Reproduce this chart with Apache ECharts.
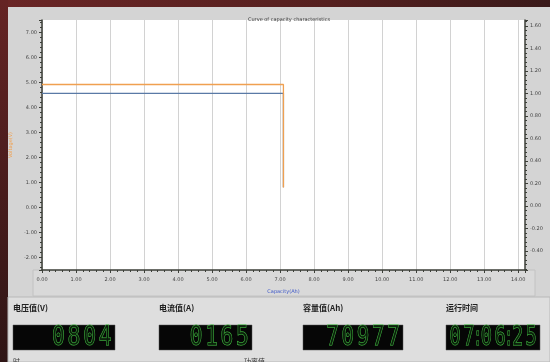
<!DOCTYPE html>
<html>
<head>
<meta charset="utf-8">
<script src="https://cdn.jsdelivr.net/npm/echarts@6/dist/echarts.min.js"></script>
<style>
  html, body { margin: 0; padding: 0; background: #d4d4d4; }
  #chart { width: 550px; height: 362px; }
</style>
</head>
<body>
<div id="chart"></div>
<script>
// Discharge curve: voltage (left axis) and current (right axis) vs. capacity
const voltageCapacity = [0, 7.0977, 7.0977];
const voltageValues   = [4.92, 4.92, 0.804];
const currentCapacity = [0, 7.0977, 7.0977];
const currentValues   = [1.00, 1.00, 0.165];

// Live readouts under the chart
const readoutTitles = ['电压值(V)', '电流值(A)', '容量值(Ah)', '运行时间'];
const readoutValues = ['0804', '0165', '70977', '07:06:25'];

const chartTitle = 'Curve of capacity characteristics';
const xName = 'Capacity(Ah)';
const yLeftName = 'Voltage(V)';
const yRightName = 'Current(A)';

const ORANGE = '#f0a050';
const BLUE = '#5a7aa6';
const AXIS = '#3c3f38';

const pairs = (xs, ys) => xs.map((x, i) => [x, ys[i]]);
const onStep = (v, step) => Math.abs(v / step - Math.round(v / step)) < 1e-6;

const chart = echarts.init(document.getElementById('chart'), null, { renderer: 'canvas' });

// Panels, readout boxes and digits drawn as graphic elements
const graphics = [];
graphics.push({
  type: 'rect', z: -1, shape: { x: 0, y: 0, width: 550, height: 7 },
  style: { fill: new echarts.graphic.LinearGradient(0, 0, 1, 0, [
    { offset: 0, color: '#6a2626' }, { offset: 0.6, color: '#55201f' }, { offset: 1, color: '#3a1a1a' }]) }
});
graphics.push({
  type: 'rect', z: -1, shape: { x: 0, y: 0, width: 8, height: 362 },
  style: { fill: new echarts.graphic.LinearGradient(0, 0, 0, 1, [
    { offset: 0, color: '#652424' }, { offset: 1, color: '#2e1515' }]) }
});
// axis label strip under the plot
graphics.push({
  type: 'rect', z: -1, shape: { x: 33, y: 270, width: 502, height: 26 },
  style: { fill: '#d9d9d9', stroke: '#c2c2c2', lineWidth: 1 }
});
// lower panel with readouts
graphics.push({
  type: 'rect', z: -1, shape: { x: 8, y: 297, width: 542, height: 65 },
  style: { fill: '#dedede', stroke: '#b8b8b8', lineWidth: 1 }
});

// box geometry and digit cell widths for each readout
const boxes = [
  { x: 13, w: 102, cell: 15.6 }, { x: 159, w: 93, cell: 15.4 },
  { x: 303, w: 100, cell: 15.2 }, { x: 446, w: 94, cell: 13.6 }
];
const boxTop = 325, boxH = 25;
boxes.forEach((b, i) => {
  graphics.push({
    type: 'text', x: b.x, y: 308,
    style: { text: readoutTitles[i], fill: '#222', font: 'bold 8px "Noto Sans CJK SC"', verticalAlign: 'middle' }
  });
  graphics.push({
    type: 'rect', shape: { x: b.x, y: boxTop, width: b.w, height: boxH },
    style: { fill: '#060606', stroke: '#555', lineWidth: 0.5 }
  });
  // seven-segment style digits, laid out right to left
  const txt = readoutValues[i];
  let right = b.x + b.w - 2;
  for (let k = txt.length - 1; k >= 0; k--) {
    const ch = txt[k];
    const cell = ch === ':' ? 4 : b.cell;
    graphics.push({
      type: 'text', x: right - cell / 2, y: boxTop + boxH / 2 + 1,
      scaleX: ch === ':' ? 0.6 : b.cell / 19,
      style: {
        text: ch, align: 'center', verticalAlign: 'middle',
        font: '26px "DejaVu Sans Mono"',
        fill: 'rgba(10,30,10,0.8)', stroke: '#45c445', lineWidth: 1
      }
    });
    right -= cell;
  }
});
graphics.push({ type: 'text', x: 13, y: 358, style: { text: '时', fill: '#333', font: '7px "Noto Sans CJK SC"' } });
graphics.push({ type: 'text', x: 244, y: 358, style: { text: '功率值', fill: '#333', font: '7px "Noto Sans CJK SC"' } });

const option = {
  animation: false,
  backgroundColor: '#d4d4d4',
  title: {
    text: chartTitle, left: 284, top: 12, textAlign: 'center',
    textStyle: { fontSize: 5, fontWeight: 'normal', color: '#333', fontFamily: 'DejaVu Sans' }
  },
  grid: {
    left: 42, right: 25, top: 20, bottom: 92,
    containLabel: false, outerBoundsMode: 'none',
    show: true, backgroundColor: '#ffffff', borderWidth: 0
  },
  xAxis: {
    type: 'value', min: 0, max: 14.2, interval: 1,
    name: xName, nameLocation: 'middle', nameGap: 19,
    nameTextStyle: { color: '#3a55c8', fontSize: 5, fontFamily: 'DejaVu Sans' },
    axisLine: { show: true, onZero: false, lineStyle: { color: AXIS, width: 1.5 } },
    axisTick: { show: true, inside: false, length: 3, lineStyle: { color: AXIS } },
    minorTick: { show: true, splitNumber: 5, length: 2, lineStyle: { color: AXIS } },
    splitLine: { show: true, lineStyle: { color: '#d2d2d2', width: 1 } },
    axisLabel: {
      fontSize: 5, color: '#444', margin: 7, fontFamily: 'DejaVu Sans',
      formatter: v => onStep(v, 1) ? v.toFixed(2) : ''
    }
  },
  yAxis: [
    {
      type: 'value', min: -2.5, max: 7.5, splitNumber: 10, position: 'left',
      name: yLeftName, nameLocation: 'middle', nameGap: 24, nameRotate: 90,
      nameTextStyle: { color: ORANGE, fontSize: 5, fontFamily: 'DejaVu Sans' },
      axisLine: { show: true, onZero: false, lineStyle: { color: AXIS, width: 1.5 } },
      axisTick: { show: true, inside: false, length: 3, lineStyle: { color: AXIS } },
      minorTick: { show: true, splitNumber: 5, length: 2, lineStyle: { color: AXIS } },
      splitLine: { show: false },
      axisLabel: {
        fontSize: 5, color: '#444', margin: 5, fontFamily: 'DejaVu Sans',
        formatter: v => onStep(v, 1) ? v.toFixed(2) : ''
      }
    },
    {
      type: 'value', min: -0.571, max: 1.652, splitNumber: 11, position: 'right',
      name: yRightName, nameLocation: 'middle', nameGap: 21, nameRotate: -90,
      nameTextStyle: { color: BLUE, fontSize: 5, fontFamily: 'DejaVu Sans' },
      axisLine: { show: true, onZero: false, lineStyle: { color: AXIS, width: 1.5 } },
      axisTick: { show: true, inside: false, length: 3, lineStyle: { color: AXIS } },
      minorTick: { show: true, splitNumber: 5, length: 2, lineStyle: { color: AXIS } },
      splitLine: { show: false },
      axisLabel: {
        fontSize: 5, color: '#444', margin: 5, fontFamily: 'DejaVu Sans',
        formatter: v => onStep(v, 0.2) ? v.toFixed(2) : ''
      }
    }
  ],
  series: [
    {
      name: yRightName, type: 'line', yAxisIndex: 1, showSymbol: false,
      data: pairs(currentCapacity, currentValues),
      lineStyle: { color: BLUE, width: 1.3 }, itemStyle: { color: BLUE }
    },
    {
      name: yLeftName, type: 'line', yAxisIndex: 0, showSymbol: false,
      data: pairs(voltageCapacity, voltageValues),
      lineStyle: { color: ORANGE, width: 1.3 }, itemStyle: { color: ORANGE }
    }
  ],
  graphic: graphics
};

chart.setOption(option);
</script>
</body>
</html>
